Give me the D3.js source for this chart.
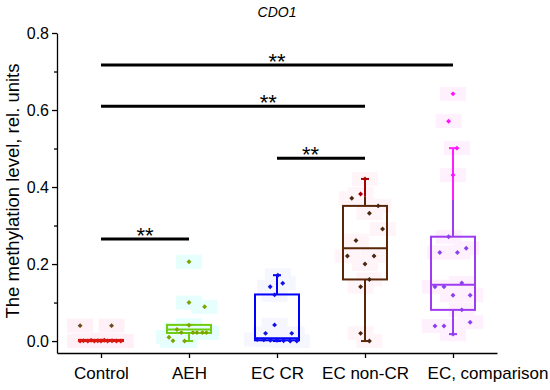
<!DOCTYPE html>
<html><head><meta charset="utf-8">
<script src="https://cdn.jsdelivr.net/npm/d3@7"></script>
<style>body{margin:0;background:#fff}svg{display:block}text{font-family:"Liberation Sans",Arial,sans-serif}</style>
</head><body><svg id="c" width="550" height="390"></svg>
<script>
const categories = ["Control","AEH","EC CR","EC non-CR","EC, comparison"];
const yTicks = [0, 0.2, 0.4, 0.6, 0.8];
const yMinorTicks = [0.1, 0.3, 0.5, 0.7];

const controlValues = [0.04,0.04,0.0,0.001,0.0,0.002,0.0,0.001,0.0,0.002,0.0,0.001,0.0,0.0];
const controlJitter = [-0.95,0.48,-0.95,-0.8,-0.6,-0.45,-0.3,-0.15,0.0,0.15,0.3,0.5,0.7,0.9];
const aehValues = [0.206,0.10,0.089,0.041,0.030,0.022,0.022,0.022,0.022,0.022,0.01,0.001,0.0];
const aehJitter = [0,0,0.71,0,-0.55,-0.35,0.18,0.36,0.61,0.79,-0.91,-0.73,-0.2];
const ecCrValues = [0.171,0.15,0.141,0.12,0.042,0.02,0.02,0.004,0.003,0.002,0.002,0.001,0.0,0.0];
const ecCrJitter = [0.04,0.26,-0.31,-0.11,-0.11,-0.52,0.67,-0.9,-0.6,-0.3,0.0,0.3,0.6,0.9];
const ecNonCrValues = [0.421,0.382,0.371,0.351,0.332,0.291,0.261,0.221,0.221,0.2,0.16,0.141,0.02,0.0];
const ecNonCrJitter = [0,-0.2,-0.6,0.6,0.2,0.8,-0.41,-0.8,0.41,0,0.2,-0.2,-0.2,0.2];
const ecCompValues = [0.642,0.571,0.501,0.431,0.271,0.241,0.230,0.230,0.151,0.141,0.141,0.119,0.119,0.081,0.049,0.039,0.039,0.018];
const ecCompJitter = [0,-0.2,0.18,0,-0.2,0.6,-0.6,0.2,0.4,-0.82,-0.41,0,0.78,0.4,0.78,-0.82,-0.41,0];

const q1 = [0, 0.021, 0.002, 0.160, 0.081];
const median = [0.001, 0.030, 0.007, 0.241, 0.146];
const q3 = [0.003, 0.042, 0.121, 0.351, 0.271];
const whiskerLow = [0, 0, 0, 0, 0.018];
const whiskerHigh = [0.003, 0.042, 0.171, 0.421, 0.501];
const colorSplit = [0.02, 1, 1, 0.375, 0.366];

const sigFrom = [0, 0, 2, 0];
const sigTo = [4, 3, 3, 1];
const sigLevel = [0.717, 0.610, 0.475, 0.265];
const sigLabelAt = [2.0, 1.9, 2.38, 0.5];
const sigText = ["**","**","**","**"];

const groupValues = [controlValues, aehValues, ecCrValues, ecNonCrValues, ecCompValues];
const groupJitter = [controlJitter, aehJitter, ecCrJitter, ecNonCrJitter, ecCompJitter];
const boxColor = ["#e01010","#70cc10","#0000ff","#5a2608","#a03cf0"];
const lowPointColor = ["#d81a10","#7ea400","#1010e8","#4a2810","#8a40f0"];
const highPointColor = ["#6b4c18","#7ea400","#1010e8","#a80000","#ff10ff"];
const highLineColor = ["#e01010","#70cc10","#0000ff","#a80000","#ff20ff"];
const bgColor = ["#fff0f8","#e6fefe","#f6f6ff","#fff5f9","#fff0fe"];

const svg = d3.select("#c");
const x = d3.scalePoint().domain(categories).range([57, 497]).padding(0.5);
const y = d3.scaleLinear().domain([-0.031, 0.8]).range([353, 33]);
const half = 22;

// backgrounds
categories.forEach((c, i) => {
  svg.append("g").selectAll("rect").data(groupValues[i]).join("rect")
    .attr("x", (d, j) => x(c) + groupJitter[i][j] * half - 13)
    .attr("y", d => y(d) - 7)
    .attr("width", 26).attr("height", 14)
    .attr("fill", bgColor[i]);
});

// boxes
categories.forEach((c, i) => {
  const g = svg.append("g");
  const cx = x(c);
  const col = boxColor[i];
  g.append("line").attr("x1", cx).attr("x2", cx).attr("y1", y(q1[i])).attr("y2", y(whiskerLow[i]))
    .attr("stroke", col).attr("stroke-width", 2);
  g.append("line").attr("x1", cx - 4).attr("x2", cx + 4).attr("y1", y(whiskerLow[i])).attr("y2", y(whiskerLow[i]))
    .attr("stroke", col).attr("stroke-width", 2);
  const split = Math.max(q3[i], Math.min(colorSplit[i], whiskerHigh[i]));
  g.append("line").attr("x1", cx).attr("x2", cx).attr("y1", y(q3[i])).attr("y2", y(split))
    .attr("stroke", col).attr("stroke-width", 2);
  const topCol = whiskerHigh[i] > colorSplit[i] ? highLineColor[i] : col;
  g.append("line").attr("x1", cx).attr("x2", cx).attr("y1", y(split)).attr("y2", y(whiskerHigh[i]))
    .attr("stroke", topCol).attr("stroke-width", 2);
  g.append("line").attr("x1", cx - 4).attr("x2", cx + 4).attr("y1", y(whiskerHigh[i])).attr("y2", y(whiskerHigh[i]))
    .attr("stroke", topCol).attr("stroke-width", 2);
  g.append("rect").attr("x", cx - half).attr("width", half * 2)
    .attr("y", y(q3[i])).attr("height", Math.max(0, y(q1[i]) - y(q3[i])))
    .attr("fill", "none").attr("stroke", col).attr("stroke-width", 2);
  g.append("line").attr("x1", cx - half).attr("x2", cx + half).attr("y1", y(median[i])).attr("y2", y(median[i]))
    .attr("stroke", col).attr("stroke-width", 2);
});

// points
const diamond = d3.symbol().type(d3.symbolSquare).size(12);
categories.forEach((c, i) => {
  svg.append("g").selectAll("path").data(groupValues[i]).join("path")
    .attr("d", diamond)
    .attr("transform", (d, j) => `translate(${x(c) + groupJitter[i][j] * half},${y(d)}) rotate(45)`)
    .attr("fill", d => d > colorSplit[i] ? highPointColor[i] : lowPointColor[i]);
});

// axes
svg.append("g").attr("transform", "translate(57,0)")
  .call(d3.axisLeft(y).tickValues(yTicks).tickFormat(d3.format(".1f")).tickSize(5).tickSizeOuter(0).tickPadding(3))
  .selectAll(".tick text").attr("font-size", 16);
svg.append("g").attr("transform", "translate(57,0)")
  .call(d3.axisLeft(y).tickValues(yMinorTicks).tickFormat("").tickSize(3).tickSizeOuter(0))
  .select(".domain").remove();
const xAxis = svg.append("g").attr("transform", "translate(0,353)")
  .call(d3.axisBottom(x).tickSize(5).tickSizeOuter(0).tickPadding(9));
xAxis.selectAll(".tick text").attr("font-size", 17);
xAxis.selectAll(".tick text").filter(d => d === categories[categories.length - 1])
  .attr("text-anchor", "end").attr("x", 548 - x(categories[categories.length - 1]));
svg.selectAll(".tick text").attr("font-family", '"Liberation Sans",Arial,sans-serif').attr("fill", "#000");
svg.selectAll(".domain, .tick line").attr("stroke", "#000").attr("stroke-width", 1.3);

// y title
svg.append("text").attr("transform", "translate(19,191) rotate(-90)")
  .attr("text-anchor", "middle").attr("font-size", 18.5).text("The methylation level, rel. units");
// title
svg.append("text").attr("x", 277).attr("y", 17).attr("text-anchor", "middle")
  .attr("font-size", 14).attr("font-style", "italic").text("CDO1");

// significance
const step = x.step();
sigFrom.forEach((f, k) => {
  svg.append("line").attr("x1", x(categories[f])).attr("x2", x(categories[sigTo[k]]))
    .attr("y1", y(sigLevel[k])).attr("y2", y(sigLevel[k]))
    .attr("stroke", "#000").attr("stroke-width", 3);
  svg.append("text").attr("x", x(categories[0]) + sigLabelAt[k] * step).attr("y", y(sigLevel[k]) + 4)
    .attr("text-anchor", "middle").attr("font-size", 22).text(sigText[k]);
});
</script></body></html>
